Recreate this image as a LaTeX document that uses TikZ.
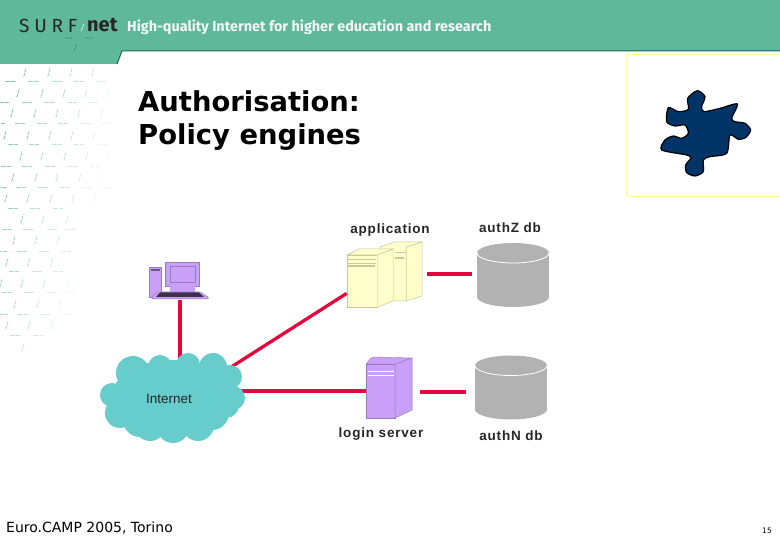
\documentclass[tikz,border=0pt]{standalone}
\usepackage{fontspec}
\usepackage{tikz}
\usetikzlibrary{positioning, shapes.geometric, calc}
\newfontfamily\verafont{DejaVu Sans}
\newfontfamily\arialfont{Liberation Sans}
\newfontfamily\bannerfont{Fira Sans}
\definecolor{thBanner}{HTML}{5FB89A}
\definecolor{thBannerDark}{HTML}{1F6650}
\definecolor{thLink}{HTML}{E4063C}
\definecolor{thCloud}{HTML}{66CCCC}
\definecolor{thLilac}{HTML}{C9A0F7}
\definecolor{thLilacDark}{HTML}{9A78C4}
\definecolor{thCream}{HTML}{FFFFCC}
\definecolor{thCreamDark}{HTML}{C8C89A}
\definecolor{thDisk}{HTML}{B2B2B2}
\definecolor{thNavy}{HTML}{003366}
\definecolor{thFrame}{HTML}{FFFF99}
\begin{document}
\begin{tikzpicture}[
    x=1pt, y=-1pt,
    link/.style={line width=3.3pt, draw=thLink},
    disk/.style={minimum width=72pt, minimum height=64pt, inner sep=0pt},
    face/.style={draw=#1, line width=0.5pt, inner sep=0pt},
    caption/.style={font=\arialfont\bfseries\fontsize{13.5}{14}\selectfont\addfontfeature{LetterSpace=6},
                    text=black!85, inner sep=0pt},
    slash/.style={line width=1pt, dash pattern=on 3.5pt off 1pt},
    tick/.style={line width=1pt},
]
\useasboundingbox (0,0) rectangle (780,540);

% banner
\fill[thBanner] (0,0) -- (780,0) -- (780,51) -- (122,51) -- (117,64) -- (0,64) -- cycle;
\draw[thBannerDark, line width=1pt] (780,51) -- (122,51) -- (117,64);
\node[font=\bannerfont\fontsize{19}{20}\selectfont\addfontfeature{LetterSpace=25}, text=black!85, anchor=west, inner sep=0pt] (surf) at (19,25.5) {SURF};
\node[font=\bannerfont\bfseries\fontsize{20}{20}\selectfont, text=black!85, anchor=west, inner sep=0pt] (net) at (87,25.5) {net};
\node[font=\bannerfont\bfseries\fontsize{14.4}{16}\selectfont, text=white!92!thBanner, anchor=west, inner sep=0pt] (motto) at (127,27) {High-quality Internet for higher education and research};
\draw[white!70!thBanner, line width=0.8pt] (81,31) -- (84,24);
\draw[thBannerDark!60!thBanner, line width=0.7pt, dash pattern=on 3pt off 1pt] (65,38) -- (73,38) (85,38) -- (94,38) (74,51) -- (77,44);

% background pattern
\foreach \py/\xs in {72/{25,49,71,93}, 93/{18,42,64,86,108}, 113/{12,35,57,79,102},
    135/{5,28,50,72,94}, 156/{21,42,65,87,107}, 177/{13,36,57,80,102}, 198/{6,28,51,73,95},
    219/{22,43,67}, 240/{14,36,58}, 262/{7,29,52}, 283/{1,22,44,68}, 304/{15,38,60},
    325/{7,29,52}, 347/{23}} {
  \foreach \px in \xs {
    \pgfmathsetmacro{\pfade}{max(8, 85-0.62*\px-0.14*(\py-72))}
    \draw[slash, thBanner!\pfade!white] (\px-1.2,\py+4.5) -- (\px+1.2,\py-4.5);
  }
}
\foreach \py/\xs in {82/{10,33,57,79,101}, 103/{4,27,49,72,93}, 124/{0,20,42,63,86,106},
    145/{13,34,57,79,102}, 167/{6,27,50,72,95}, 188/{1,21,43,65,87,107}, 209/{13,35,58},
    230/{7,28,52,70}, 252/{2,22,44,66}, 272/{14,37,58}, 293/{7,29,52,70}, 315/{3,23,45,67},
    336/{15,38}} {
  \foreach \px in \xs {
    \pgfmathsetmacro{\pfade}{max(8, 85-0.62*\px-0.14*(\py-82))}
    \draw[tick, thBanner!\pfade!white] (\px-5,\py) -- (\px-0.5,\py) (\px+0.5,\py) -- (\px+5,\py);
  }
}

% title
\node[font=\verafont\bfseries\fontsize{27.4}{33}\selectfont, align=left, anchor=north west, inner sep=0pt] (title) at (138,90) {Authorisation:\\Policy engines};

% puzzle box
\draw[thFrame, line width=1pt] (781,55) -- (626,55) -- (626,196.5) -- (781,196.5);
\begin{scope}[shift={(620,50)}, x=0.3333pt, y=-0.3333pt]
\draw[fill=thNavy, draw=black, line width=1.2pt] plot[smooth cycle, tension=0.45] coordinates {
    (232,122) (255,140) (245,170) (252,185) (300,175) (352,162) (335,205) (345,215) (375,220)
    (392,240) (378,262) (355,268) (330,255) (320,310) (270,320) (250,330) (250,365) (225,378)
    (200,368) (197,345) (212,325) (200,315) (125,300) (135,270) (160,258) (185,265) (205,250)
    (195,225) (165,228) (140,215) (145,173) (175,185) (205,178) (203,145)};
\end{scope}

% workstation
\node[fill=thLilac, draw=thLilacDark, line width=0.5pt, minimum width=12pt, minimum height=30pt, inner sep=0pt] (pctower) at (155,282) {};
\fill[thLilacDark!70!black] (150.5,269.5) rectangle (159.5,271.5);
\node[fill=thLilac, draw=thLilacDark, line width=0.5pt, minimum width=34pt, minimum height=24pt, inner sep=0pt] (pcscreen) at (182.5,274) {};
\draw[thLilacDark, line width=0.5pt] (170,266) rectangle (195,282);
\fill[thLilac] (170,286) rectangle (195,292);
\draw[fill=thLilac, draw=thLilacDark, line width=0.5pt] (157,292) -- (200,292) -- (208,297) -- (208,299) -- (152,299) -- (152,297) -- cycle;
\fill[black!70!thLilac] (160,292.5) -- (199,292.5) -- (204,297) -- (156,297) -- cycle;

% servers
\fill[thCream, draw=thCreamDark, line width=0.5pt] (406,247) -- (422,242) -- (422,296) -- (406,301) -- cycle;
\fill[thCream, draw=thCreamDark, line width=0.5pt] (380,247) -- (395,242) -- (422,242) -- (406,247) -- (406,301) -- (380,301) -- cycle;
\draw[thCreamDark, line width=0.5pt] (395,252) -- (406,252);
\draw[thCreamDark, line width=1.2pt] (395,258) -- (404,258);
\node[face=thCreamDark, fill=thCream, minimum width=30pt, minimum height=52pt] (appfront) at (362,281) {};
\fill[thCream, draw=thCreamDark, line width=0.5pt] (377,255) -- (393,249) -- (393,301) -- (377,307.5) -- cycle;
\fill[thCream, draw=thCreamDark, line width=0.5pt] (347,255) -- (359,249) -- (393,249) -- (377,255) -- cycle;
\draw[thCreamDark, line width=0.6pt] (348,259) -- (376,259) (348,263) -- (376,263);
\draw[thCreamDark, line width=1.4pt] (348,266) -- (375,266);

\node[face=thLilacDark, fill=thLilac, minimum width=29pt, minimum height=54pt] (login) at (380.5,391) {};
\fill[thLilac, draw=thLilacDark, line width=0.5pt] (395,364) -- (412,358) -- (412,410) -- (395,418) -- cycle;
\fill[thLilac, draw=thLilacDark, line width=0.4pt] (366,364) -- (371,358) -- (376,357) -- (412,358) -- (395,364) -- cycle;
\draw[white, line width=0.6pt] (368,371) -- (394,371) (368,375) -- (394,375);

% databases
\foreach \dbname/\dbx/\dby in {authZ/513/275, authN/511/387.5} {
  \fill[thDisk] (\dbx-36,\dby-22) rectangle (\dbx+36,\dby+22);
  \fill[thDisk] (\dbx,\dby-22) ellipse [x radius=36pt, y radius=10pt];
  \fill[thDisk] (\dbx,\dby+22) ellipse [x radius=36pt, y radius=10pt];
  \draw[white, line width=0.8pt] (\dbx-36,\dby-22) arc [start angle=180, end angle=360, x radius=36pt, y radius=10pt];
  \node[disk] (\dbname) at (\dbx,\dby) {};
}

% connectors
\node[ellipse, fill=thCloud, minimum width=124pt, minimum height=76pt, inner sep=0pt] (net cloud) at (173,398) {};
\coordinate (appport) at (427,274);
\coordinate (loginport) at (420,392);
\coordinate (pcport) at (180,300);
\draw[link] (pcport) -- (pcport |- net cloud.north);
\draw[link] (net cloud.27) -- (appfront.219);
\draw[link] (login) -- (login -| net cloud.east);
\draw[link, shorten >=5pt] (appport) -- (authZ.west |- appport);
\draw[link, shorten >=9pt] (loginport) -- (authN.west |- loginport);

% cloud puffs
\foreach \cx/\cy/\cr in {133/373/17, 160/367/12, 188/365/12, 213/367/14, 230/377/12, 233/398/12,
    226/405/13, 212/413/17, 198/425/16, 173/427/16, 150/425/16, 140/420/17, 120/413/15, 112/395/12} {
  \fill[thCloud] (\cx,\cy) circle [radius=\cr pt];
}
\node[font=\arialfont\fontsize{13.5}{14}\selectfont, text=black!85, inner sep=0pt] (internet) at (169,399) {Internet};

% labels
\node[caption, anchor=south] (applabel) at (390,237) {application};
\node[caption, above=10pt of authZ, xshift=-3pt] (authZlabel) {authZ db};
\node[caption, below=9pt of login, xshift=0.5pt] (loginlabel) {login server};
\node[caption, below=11pt of authN] (authNlabel) {authN db};
\node[font=\verafont\fontsize{14}{15}\selectfont, anchor=west, inner sep=0pt] (place) at (6,528) {Euro.CAMP 2005, Torino};
\node[font=\verafont\fontsize{7.5}{9}\selectfont, inner sep=0pt] (page) at (767,531) {15};
\end{tikzpicture}
\end{document}
